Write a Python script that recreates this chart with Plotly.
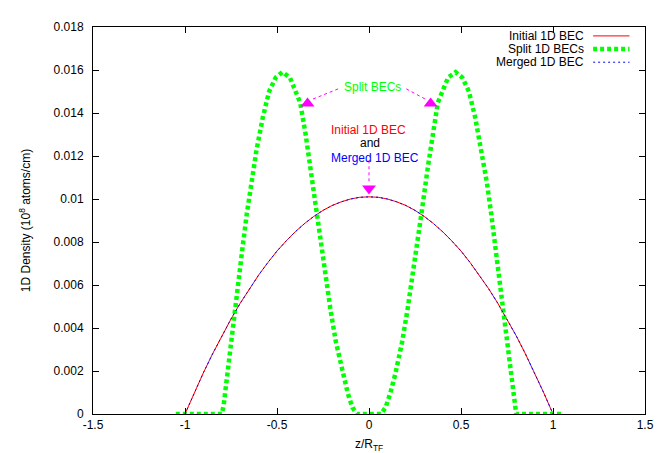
import plotly.graph_objects as go

# ---------------- data ----------------
z_tf = [-1.0, -0.95, -0.9, -0.85, -0.8, -0.75, -0.7, -0.65, -0.6, -0.55, -0.5,
        -0.45, -0.4, -0.35, -0.3, -0.25, -0.2, -0.15, -0.1, -0.05, 0.0,
        0.05, 0.1, 0.15, 0.2, 0.25, 0.3, 0.35, 0.4, 0.45, 0.5,
        0.55, 0.6, 0.65, 0.7, 0.75, 0.8, 0.85, 0.9, 0.95, 1.0]
initial_density = [0.0, 0.00098, 0.00192, 0.00280, 0.00364, 0.00442, 0.00515, 0.00583, 0.00646, 0.00704, 0.00758,
                   0.00805, 0.00848, 0.00886, 0.00919, 0.00947, 0.00970, 0.00987, 0.01000, 0.01008, 0.0101,
                   0.01008, 0.01000, 0.00987, 0.00970, 0.00947, 0.00919, 0.00886, 0.00848, 0.00805, 0.00758,
                   0.00704, 0.00646, 0.00583, 0.00515, 0.00442, 0.00364, 0.00280, 0.00192, 0.00098, 0.0]
merged_density = [0.0, 0.00098, 0.00192, 0.00280, 0.00364, 0.00442, 0.00515, 0.00583, 0.00646, 0.00704, 0.00758,
                  0.00805, 0.00848, 0.00886, 0.00919, 0.00947, 0.00970, 0.00987, 0.01000, 0.01008, 0.0101,
                  0.01008, 0.01000, 0.00987, 0.00970, 0.00947, 0.00919, 0.00886, 0.00848, 0.00805, 0.00758,
                  0.00704, 0.00646, 0.00583, 0.00515, 0.00442, 0.00364, 0.00280, 0.00192, 0.00098, 0.0]

z_split = [-1.05, -1.0, -0.9, -0.8, -0.79, -0.77, -0.752, -0.728, -0.706, -0.686, -0.664,
           -0.640, -0.611, -0.577, -0.543, -0.507, -0.47, -0.43, -0.374, -0.345, -0.321,
           -0.285, -0.260, -0.236, -0.209, -0.180, -0.143, -0.115, -0.09, -0.065, 0.0,
           0.065, 0.09, 0.115, 0.143, 0.180, 0.209, 0.236, 0.260, 0.285,
           0.321, 0.345, 0.374, 0.43, 0.47, 0.507, 0.543, 0.577, 0.611, 0.640,
           0.664, 0.686, 0.706, 0.728, 0.752, 0.77, 0.79, 0.8, 0.9, 1.0, 1.05]
split_density = [0.0, 0.0, 0.0, 0.0, 0.0004, 0.00186, 0.00335, 0.00484, 0.00634, 0.00783, 0.00932,
                 0.0108, 0.0123, 0.0138, 0.0150, 0.01565, 0.0159, 0.01565, 0.01448, 0.01304, 0.01155,
                 0.00932, 0.00783, 0.00634, 0.00484, 0.00335, 0.00186, 0.00095, 0.0003, 0.0, 0.0,
                 0.0, 0.0003, 0.00095, 0.00186, 0.00335, 0.00484, 0.00634, 0.00783, 0.00932,
                 0.01155, 0.01304, 0.01448, 0.01565, 0.0159, 0.01565, 0.0150, 0.0138, 0.0123, 0.0108,
                 0.00932, 0.00783, 0.00634, 0.00484, 0.00335, 0.00186, 0.0004, 0.0, 0.0, 0.0, 0.0]

series_names = ["Initial 1D BEC", "Split 1D BECs", "Merged 1D BEC"]

x_tickvals = [-1.5, -1.0, -0.5, 0.0, 0.5, 1.0, 1.5]
x_ticktext = ["-1.5", "-1", "-0.5", "0", "0.5", "1", "1.5"]
y_tickvals = [0, 0.002, 0.004, 0.006, 0.008, 0.01, 0.012, 0.014, 0.016, 0.018]
y_ticktext = ["0", "0.002", "0.004", "0.006", "0.008", "0.01", "0.012", "0.014", "0.016", "0.018"]

# ---------------- styling ----------------
FONT = "Liberation Sans, Arial, Helvetica, sans-serif"
RED = "#ff0000"
GREEN = "#00ff00"
BLUE = "#0000ff"
MAGENTA = "#ff00ff"
GREEN_DASH = "4px,3px"

fig = go.Figure()

fig.add_trace(go.Scatter(x=z_tf, y=initial_density, mode="lines", name=series_names[0],
                         line=dict(color=RED, width=1), hoverinfo="skip"))
fig.add_trace(go.Scatter(x=z_split, y=split_density, mode="lines", name=series_names[1],
                         line=dict(color=GREEN, width=4.5, dash=GREEN_DASH), hoverinfo="skip"))
fig.add_trace(go.Scatter(x=z_tf, y=merged_density, mode="lines", name=series_names[2],
                         line=dict(color=BLUE, width=1, dash="2px,3px"), hoverinfo="skip"))

# arrow heads (annotation decoration)
arrow_up_x = [-0.334, 0.335]
arrow_up_y = [0.01444, 0.01444]
arrow_down_x = [0.0]
arrow_down_y = [0.01049]
fig.add_trace(go.Scatter(x=arrow_up_x, y=arrow_up_y, mode="markers",
                         marker=dict(symbol="triangle-up", size=12, color=MAGENTA),
                         hoverinfo="skip", cliponaxis=False))
fig.add_trace(go.Scatter(x=arrow_down_x, y=arrow_down_y, mode="markers",
                         marker=dict(symbol="triangle-down", size=12, color=MAGENTA),
                         hoverinfo="skip", cliponaxis=False))

# dotted arrow shafts
shafts = [(-0.168, 0.01512, -0.313, 0.01462),
          (0.203, 0.01512, 0.312, 0.01462),
          (0.0, 0.01180, 0.0, 0.01080)]
for x0, y0, x1, y1 in shafts:
    fig.add_shape(type="line", x0=x0, y0=y0, x1=x1, y1=y1, xref="x", yref="y",
                  line=dict(color=MAGENTA, width=1, dash="dot"))

annotations = [
    dict(x=0.02, y=0.0152, text="Split BECs", font=dict(color=GREEN, size=12), xanchor="center"),
    dict(x=-0.219, y=0.01319, text="Initial 1D BEC", font=dict(color=RED, size=12), xanchor="left"),
    dict(x=-0.06, y=0.01262, text="and", font=dict(color="#000000", size=12), xanchor="left"),
    dict(x=-0.219, y=0.01190, text="Merged 1D BEC", font=dict(color=BLUE, size=12), xanchor="left"),
]
for a in annotations:
    fig.add_annotation(xref="x", yref="y", showarrow=False, yanchor="middle", **a)

# custom legend (text right-aligned, sample on the right, gnuplot style)
legend_rows = [0.977, 0.943, 0.909]
legend_styles = [dict(color=RED, width=1),
                 dict(color=GREEN, width=4.5, dash=GREEN_DASH),
                 dict(color=BLUE, width=1, dash="2px,3px")]
for name, yp, st in zip(series_names, legend_rows, legend_styles):
    fig.add_annotation(xref="paper", yref="paper", x=0.892, y=yp, text=name, showarrow=False,
                       xanchor="right", yanchor="middle", font=dict(size=12, color="#000000"),
                       borderpad=0)
    fig.add_shape(type="line", xref="paper", yref="paper", x0=0.906, x1=0.972, y0=yp, y1=yp,
                  line=st)

fig.update_layout(
    width=662, height=453,
    margin=dict(l=85, r=25, t=13, b=38),
    paper_bgcolor="white", plot_bgcolor="white",
    showlegend=False,
    font=dict(family=FONT, size=12, color="#000000"),
)
fig.update_xaxes(range=[-1.5, 1.5], tickvals=x_tickvals, ticktext=x_ticktext,
                 ticks="inside", ticklen=6, tickcolor="#000000", showline=True, linecolor="#000000",
                 linewidth=1, mirror="ticks", showgrid=False, zeroline=False,
                 title=dict(text="z/R<sub>TF</sub>", standoff=8, font=dict(size=12)),
                 tickfont=dict(size=12))
fig.update_yaxes(range=[0, 0.018], tickvals=y_tickvals, ticktext=y_ticktext,
                 ticks="inside", ticklen=6, tickcolor="#000000", showline=True, linecolor="#000000",
                 linewidth=1, mirror="ticks", showgrid=False, zeroline=False,
                 title=dict(text="1D Density (10<sup>8</sup> atoms/cm)", standoff=20, font=dict(size=12)),
                 tickfont=dict(size=12), ticklabelstandoff=6)

fig.write_html("out.html")
